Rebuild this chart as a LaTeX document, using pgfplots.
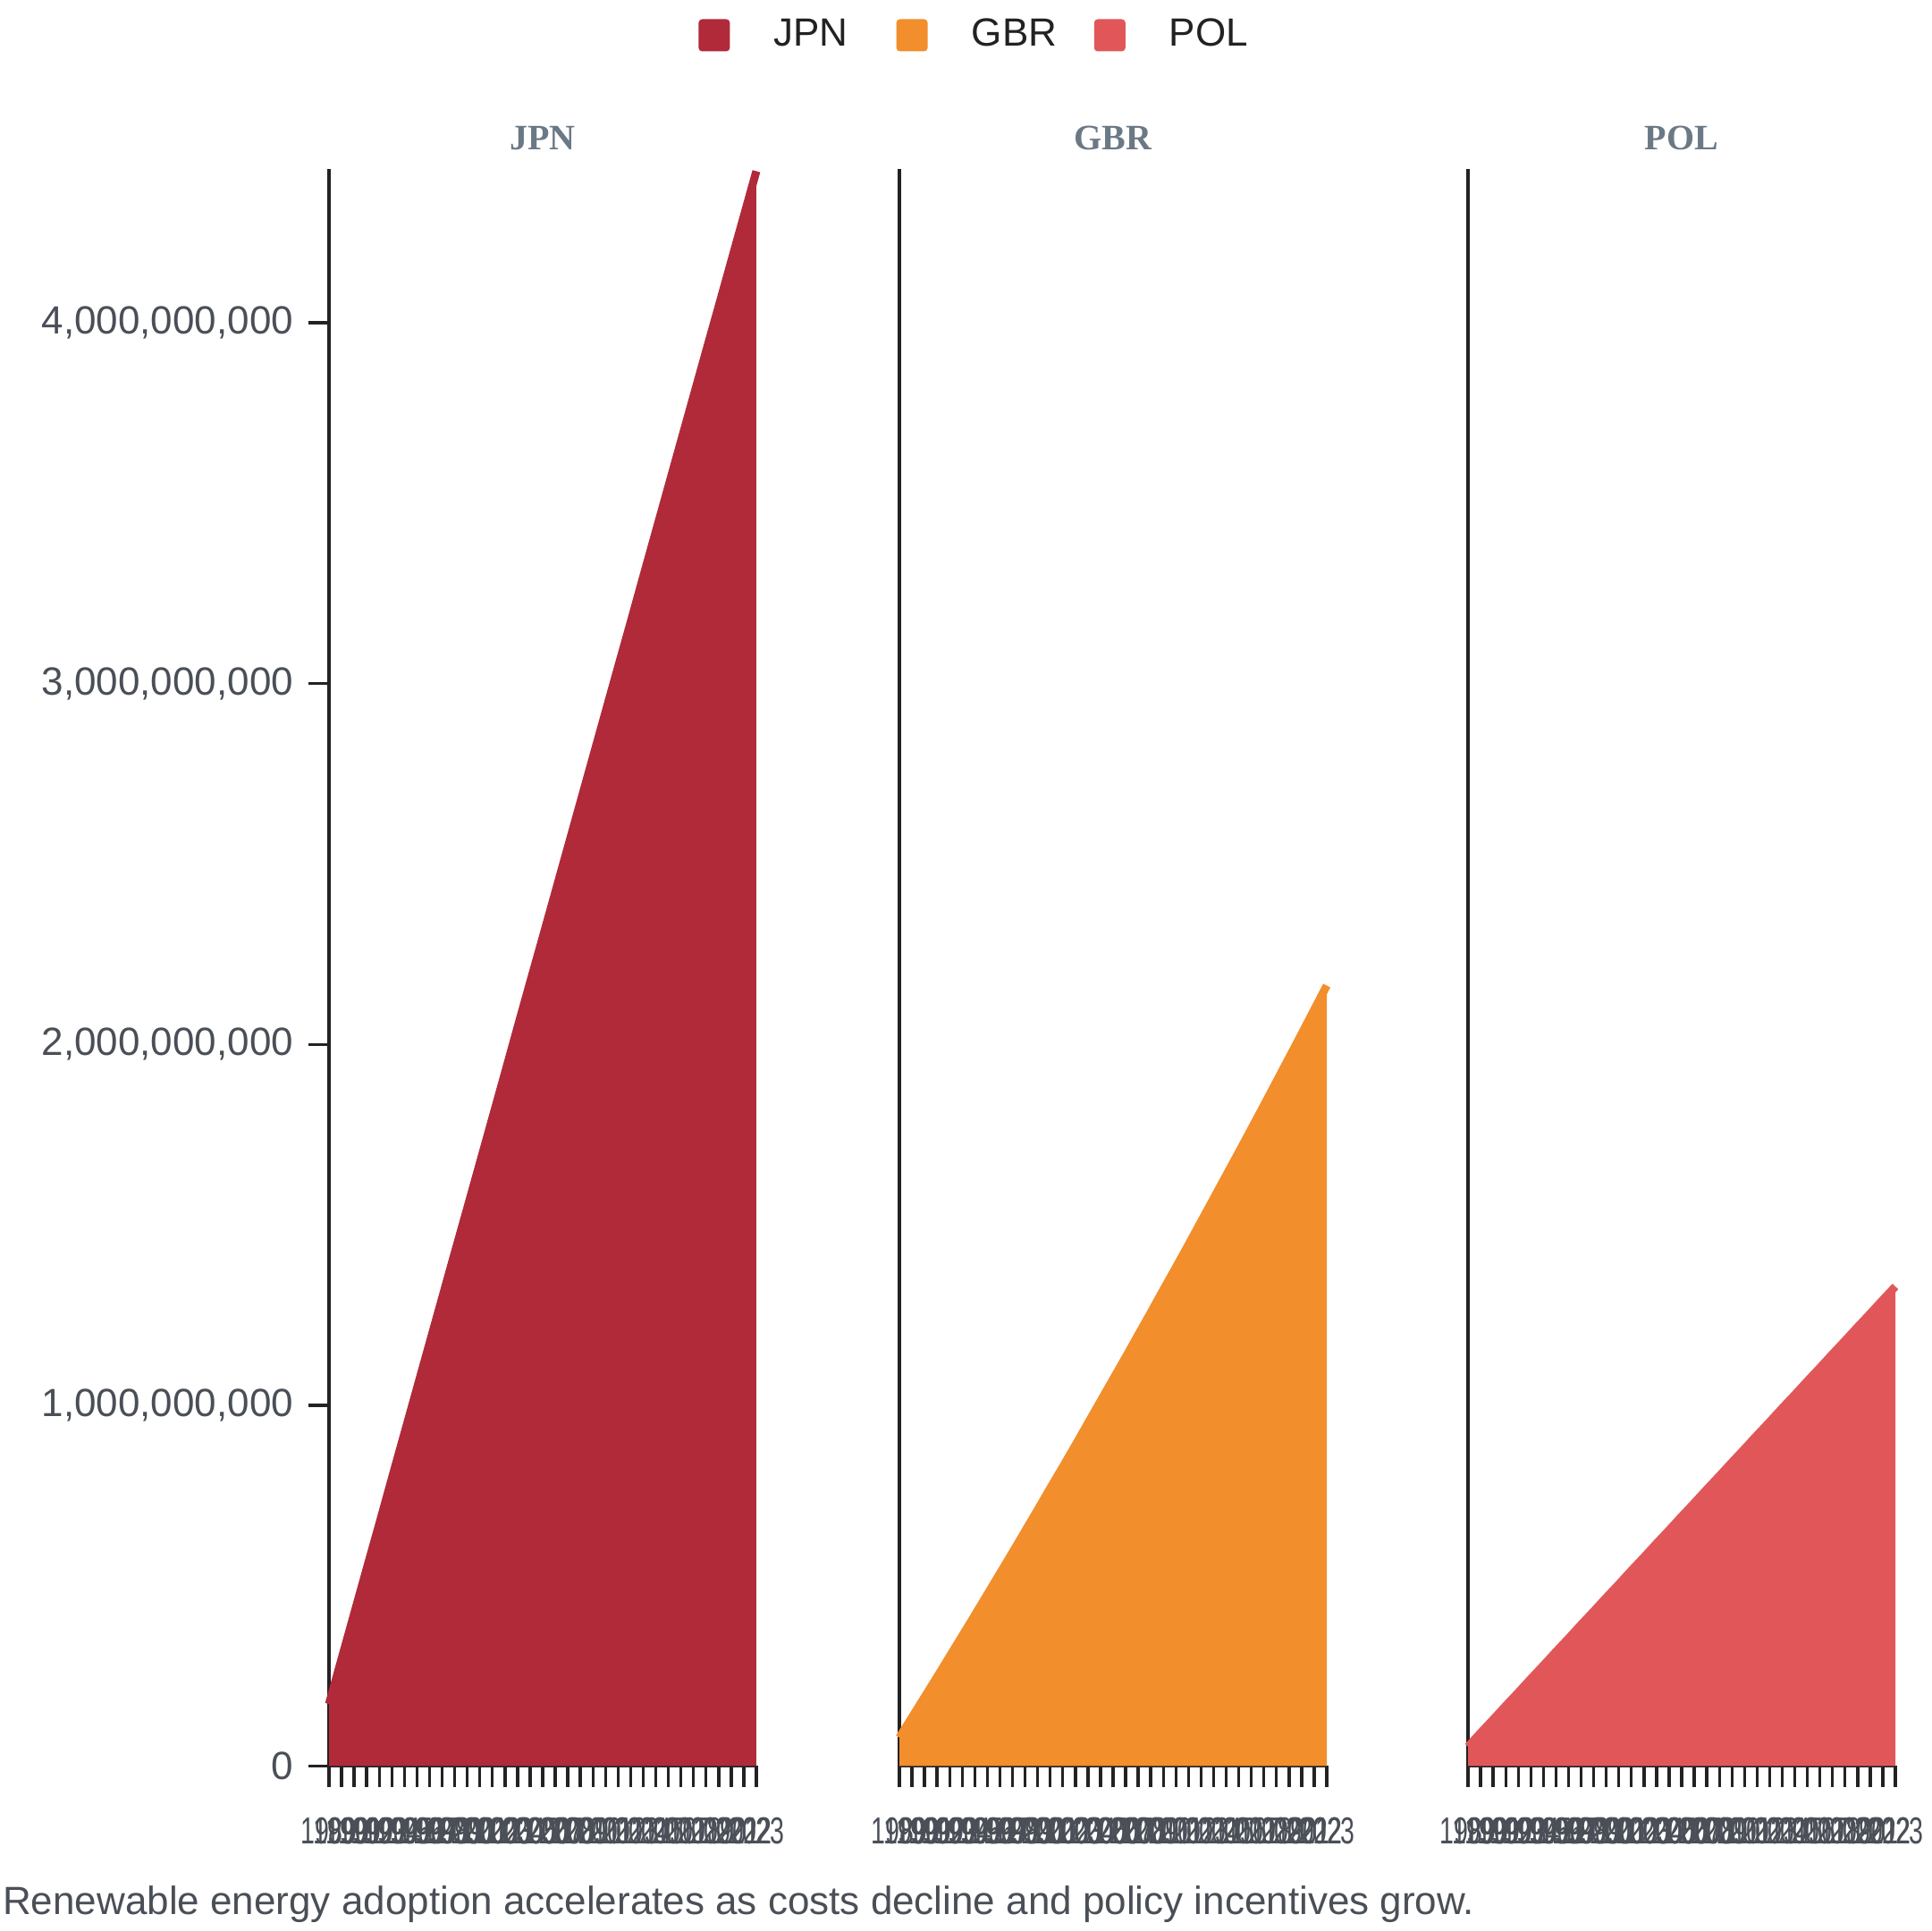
\documentclass[border=0pt]{standalone}
\usepackage{pgfplots}
\pgfplotsset{compat=1.18}
\usepackage{pgfplotstable}
\usepackage{fontspec}
\setmainfont{Liberation Sans}
\newfontfamily\serifb{Liberation Serif}
\newfontfamily\narrow[FakeStretch=0.68]{Liberation Sans}
\definecolor{jpn}{HTML}{B02A3A}
\definecolor{gbr}{HTML}{F28E2B}
\definecolor{pol}{HTML}{E15759}
\definecolor{axc}{HTML}{222222}
\definecolor{tlc}{HTML}{4A4F57}
\definecolor{ttc}{HTML}{6B7886}

\pgfplotstableread{
year jpn gbr pol
1989 172000000 79000000 54000000
1990 297000000 135000000 92000000
1991 422000000 191000000 129000000
1992 547000000 247000000 167000000
1993 671000000 304000000 204000000
1994 797000000 361000000 242000000
1995 922000000 418000000 279000000
1996 1047000000 476000000 317000000
1997 1172000000 534000000 354000000
1998 1297000000 592000000 392000000
1999 1422000000 651000000 429000000
2000 1546000000 710000000 467000000
2001 1671000000 770000000 504000000
2002 1796000000 829000000 542000000
2003 1921000000 889000000 579000000
2004 2047000000 950000000 617000000
2005 2172000000 1011000000 654000000
2006 2296000000 1072000000 692000000
2007 2421000000 1133000000 729000000
2008 2546000000 1195000000 767000000
2009 2671000000 1257000000 804000000
2010 2796000000 1320000000 842000000
2011 2921000000 1382000000 879000000
2012 3046000000 1445000000 917000000
2013 3170000000 1509000000 954000000
2014 3296000000 1573000000 992000000
2015 3421000000 1637000000 1029000000
2016 3546000000 1701000000 1067000000
2017 3671000000 1766000000 1104000000
2018 3796000000 1831000000 1142000000
2019 3921000000 1897000000 1179000000
2020 4045000000 1963000000 1217000000
2021 4170000000 2029000000 1254000000
2022 4295000000 2096000000 1292000000
2023 4420000000 2163000000 1329000000
}\data

\pgfplotsset{
  facet/.style={
    scale only axis, width=119.5pt, height=446.7pt,
    anchor=south west, clip=false,
    xmin=1989, xmax=2023, ymin=0, ymax=4427000000,
    axis x line*=bottom, axis y line*=left,
    axis line style={axc, line width=1pt},
    tick align=outside, major tick length=5.75pt,
    tick style={axc, line width=0.85pt},
    scaled y ticks=false, scaled x ticks=false,
    xtick={1989,1990,1991,1992,1993,1994,1995,1996,1997,1998,1999,2000,2001,2002,2003,2004,2005,2006,2007,2008,2009,2010,2011,2012,2013,2014,2015,2016,2017,2018,2019,2020,2021,2022,2023},
    xticklabels={1989,1990,1991,1992,1993,1994,1995,1996,1997,1998,1999,2000,2001,2002,2003,2004,2005,2006,2007,2008,2009,2010,2011,2012,2013,2014,2015,2016,2017,2018,2019,2020,2021,2022,2023},
    xticklabel style={font=\narrow\fontsize{10.5}{12}\selectfont, text=tlc, yshift=-5.2pt},
    yticklabel style={font=\fontsize{11}{13}\selectfont, text=tlc, xshift=-0.7pt},
    title style={font=\serifb\bfseries\fontsize{10}{12}\selectfont, text=ttc, at={(0.5,1)}, anchor=center, yshift=2.5pt},
  }
}

\begin{document}
\begin{tikzpicture}
\useasboundingbox (0,0) rectangle (540pt,540pt);

\begin{axis}[facet, at={(92pt,46.125pt)}, title={JPN},
  ytick={0,1000000000,2000000000,3000000000,4000000000},
  yticklabels={0,{1,000,000,000},{2,000,000,000},{3,000,000,000},{4,000,000,000}},
  legend image code/.code={\fill[#1, rounded corners=1pt] (0pt,-4.5pt) rectangle (8.75pt,4.5pt);},
  legend style={at={(1.559,1.0835)}, anchor=center, draw=none, fill=none,
    font=\fontsize{11}{13}\selectfont, text=axc,
    /tikz/every odd column/.append style={column sep=10.3pt},
    /tikz/every even column/.append style={column sep=0pt}},
  legend columns=3]
\addlegendimage{fill=jpn, draw=none}
\addlegendentry{\makebox[32.25pt][l]{JPN}}
\addlegendimage{fill=gbr, draw=none}
\addlegendentry{\makebox[32.25pt][l]{GBR}}
\addlegendimage{fill=pol, draw=none}
\addlegendentry{\makebox[32.25pt][l]{POL}}
\addplot[fill=jpn, draw=none, forget plot] table[x=year,y=jpn]{\data} \closedcycle;
\addplot[jpn, line width=2.25pt, forget plot] table[x=year,y=jpn]{\data};
\end{axis}

\begin{axis}[facet, at={(251.5pt,46.125pt)}, title={GBR}, ytick=\empty]
\addplot[fill=gbr, draw=none] table[x=year,y=gbr]{\data} \closedcycle;
\addplot[gbr, line width=2.25pt] table[x=year,y=gbr]{\data};
\end{axis}

\begin{axis}[facet, at={(410.5pt,46.125pt)}, title={POL}, ytick=\empty]
\addplot[fill=pol, draw=none] table[x=year,y=pol]{\data} \closedcycle;
\addplot[pol, line width=2.25pt] table[x=year,y=pol]{\data};
\end{axis}

\node[anchor=base west, inner sep=0, text=tlc, font=\fontsize{11}{13}\selectfont] at (0.6pt,4.75pt)
  {Renewable energy adoption accelerates as costs decline and policy incentives grow.};
\end{tikzpicture}
\end{document}
